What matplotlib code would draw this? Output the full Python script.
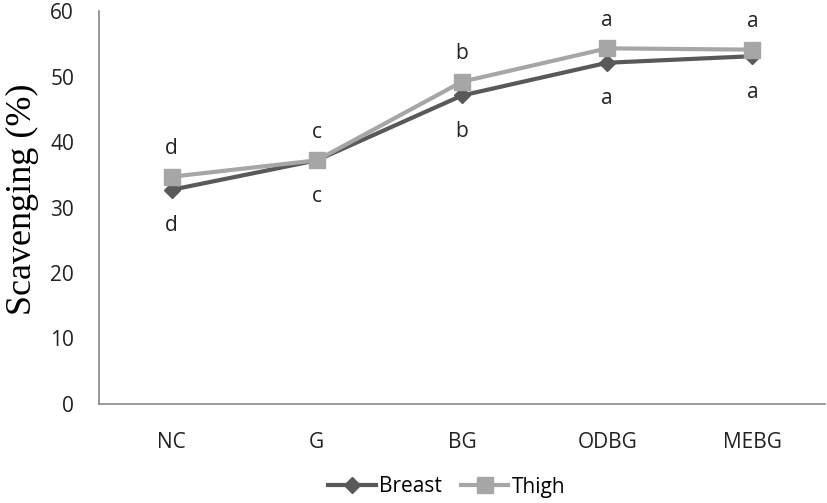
import matplotlib.pyplot as plt

categories = ["NC", "G", "BG", "ODBG", "MEBG"]
breast = [32.7, 37.2, 47.1, 52.1, 53.1]
thigh = [34.7, 37.2, 49.2, 54.3, 54.1]
letters_above = ["d", "c", "b", "a", "a"]
letters_below = ["d", "c", "b", "a", "a"]

plt.rcParams['font.family'] = ['Open Sans', 'DejaVu Sans']

fig = plt.figure(figsize=(8.27, 5.03), dpi=100)
ax = fig.add_axes([99 / 827, 1 - 404 / 503, 726 / 827, 393 / 503])

x = range(len(categories))
ax.plot(x, breast, color='#595959', lw=3, marker='D', ms=8, label='Breast', zorder=3)
ax.plot(x, thigh, color='#a6a6a6', lw=3, marker='s', ms=11, label='Thigh', zorder=4)

# significance letters
for i in x:
    top = max(breast[i], thigh[i])
    low = min(breast[i], thigh[i])
    ax.text(i, top + 4.3, letters_above[i], ha='center', va='center', fontsize=15, color='#222222')
    ax.text(i, low - 5.5, letters_below[i], ha='center', va='center', fontsize=15, color='#222222')

ax.set_xlim(-0.5, len(categories) - 0.5)
ax.set_ylim(0, 60)
ax.set_yticks(range(0, 61, 10))
ax.set_xticks(list(x))
ax.set_xticklabels(categories)
ax.tick_params(axis='both', length=0, labelsize=15, colors='#222222')
ax.tick_params(axis='y', pad=18)
ax.tick_params(axis='x', pad=20)
for s in ['top', 'right']:
    ax.spines[s].set_visible(False)
for s in ['left', 'bottom']:
    ax.spines[s].set_color('#888888')
    ax.spines[s].set_linewidth(1.2)

ax.set_ylabel('Scavenging (%)', family='Liberation Serif', fontsize=26)
ax.yaxis.set_label_coords(-0.083, 0.52)

fig.legend(loc='center', bbox_to_anchor=(0.54, 1 - 487 / 503), ncol=2, frameon=False,
           fontsize=15, handlelength=2.3, columnspacing=0.9, handletextpad=0.15)

fig.savefig('out.png', dpi=100)
